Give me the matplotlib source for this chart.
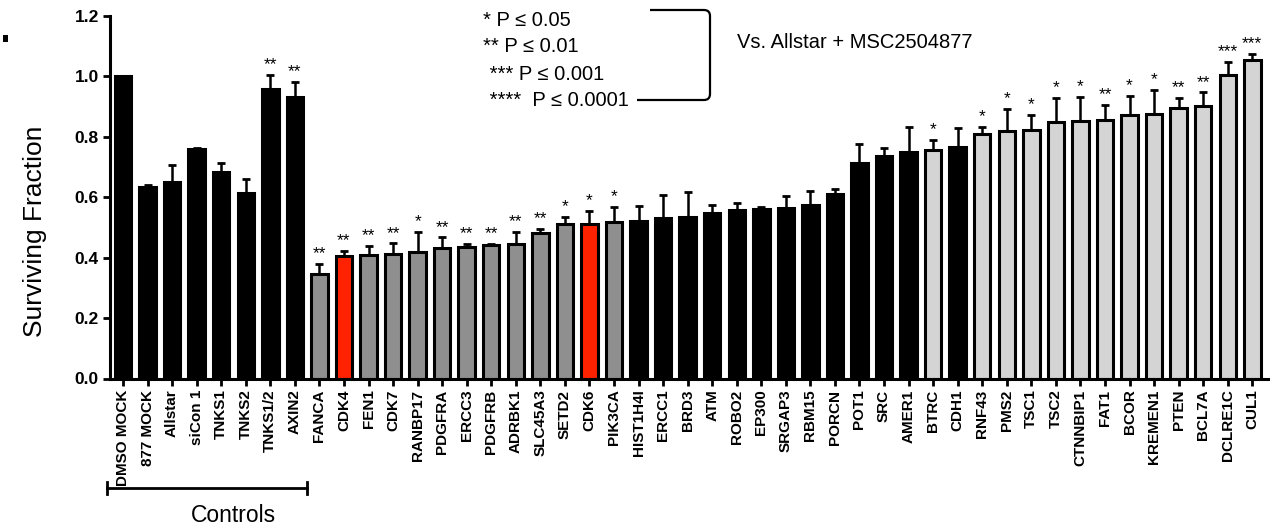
import matplotlib
matplotlib.use('Agg')
import matplotlib.pyplot as plt
import matplotlib.transforms as mtransforms
from matplotlib.patches import Rectangle, PathPatch
from matplotlib.path import Path
import numpy as np


genes = ['DMSO MOCK', '877 MOCK', 'Allstar', 'siCon 1', 'TNKS1', 'TNKS2', 'TNKS1/2', 'AXIN2',
         'FANCA', 'CDK4', 'FEN1', 'CDK7', 'RANBP17', 'PDGFRA', 'ERCC3', 'PDGFRB', 'ADRBK1',
         'SLC45A3', 'SETD2', 'CDK6', 'PIK3CA', 'HIST1H4I', 'ERCC1', 'BRD3', 'ATM', 'ROBO2',
         'EP300', 'SRGAP3', 'RBM15', 'PORCN', 'POT1', 'SRC', 'AMER1', 'BTRC', 'CDH1', 'RNF43',
         'PMS2', 'TSC1', 'TSC2', 'CTNNBIP1', 'FAT1', 'BCOR', 'KREMEN1', 'PTEN', 'BCL7A',
         'DCLRE1C', 'CUL1']

surviving = [1.000, 0.633, 0.651, 0.759, 0.683, 0.614, 0.960, 0.931,
             0.347, 0.407, 0.408, 0.411, 0.419, 0.431, 0.434, 0.441, 0.445,
             0.481, 0.511, 0.511, 0.518, 0.523, 0.531, 0.534, 0.547, 0.557,
             0.560, 0.563, 0.576, 0.610, 0.715, 0.736, 0.750, 0.757, 0.766, 0.810,
             0.820, 0.823, 0.848, 0.851, 0.857, 0.872, 0.877, 0.895, 0.903,
             1.006, 1.053]

sem = [0.000, 0.009, 0.056, 0.004, 0.029, 0.046, 0.044, 0.052,
       0.033, 0.016, 0.030, 0.036, 0.067, 0.036, 0.012, 0.003, 0.040,
       0.014, 0.024, 0.044, 0.049, 0.049, 0.077, 0.085, 0.029, 0.023,
       0.007, 0.040, 0.044, 0.017, 0.060, 0.026, 0.084, 0.034, 0.064, 0.024,
       0.073, 0.049, 0.080, 0.081, 0.050, 0.064, 0.079, 0.034, 0.044,
       0.043, 0.020]

# ns = not significant, sens = sensitising, hit = highlighted, res = resistance
groups = ['ns'] * 8 + ['sens', 'hit'] + ['sens'] * 9 + ['hit', 'sens'] + ['ns'] * 12 + \
         ['res', 'ns'] + ['res'] * 12

stars = ['', '', '', '', '', '', '**', '**',
         '**', '**', '**', '**', '*', '**', '**', '**', '**',
         '**', '*', '*', '*', '', '', '', '', '',
         '', '', '', '', '', '', '', '*', '', '*',
         '*', '*', '*', '*', '**', '*', '*', '**', '**',
         '***', '***']

legend_lines = ['* P \u2264 0.05', '** P \u2264 0.01', ' *** P \u2264 0.001', ' ****  P \u2264 0.0001']

group_colors = {'ns': 'black', 'sens': '#8f8f8f', 'hit': '#ff2200', 'res': '#d4d4d4'}

plt.rcParams['font.family'] = ['Liberation Sans', 'DejaVu Sans']

W, H = 1283, 531
fig = plt.figure(figsize=(W / 100, H / 100), dpi=100)


def fpx(x, y):
    return x / W, 1 - y / H


ax = fig.add_axes([110 / W, 1 - 378.5 / H, (1268 - 110) / W, (378.5 - 16) / H])

x = np.arange(len(genes))
ax.bar(x, surviving, width=0.67, color=[group_colors[g] for g in groups],
       edgecolor='black', linewidth=2.2, zorder=2)
ax.errorbar(x, surviving, yerr=[np.zeros(len(x)), sem], fmt='none', ecolor='black',
            elinewidth=1.8, capsize=3, capthick=2, zorder=3)

for i, s in enumerate(stars):
    if s:
        ax.annotate(s, (i, surviving[i] + sem[i]), xytext=(0, 2), textcoords='offset points',
                    ha='center', va='bottom', fontsize=12.5)

ax.set_xlim(-0.53, 46.64)
ax.set_ylim(0, 1.2)
ax.set_yticks(np.arange(0, 1.21, 0.2))
ax.yaxis.set_major_formatter('{x:.1f}')
ax.set_xticks(x)
ax.set_xticklabels(genes)
ax.tick_params(direction='out', length=5, width=2, pad=3)
ax.tick_params(axis='x', labelsize=11, labelrotation=90)
ax.tick_params(axis='y', labelsize=12.5)
for lab in ax.get_xticklabels() + ax.get_yticklabels():
    lab.set_fontweight('bold')
for side in ['top', 'right']:
    ax.spines[side].set_visible(False)
for side in ['left', 'bottom']:
    ax.spines[side].set_linewidth(2.2)

ax.set_ylabel('Surviving Fraction', fontsize=19)
ax.yaxis.set_label_coords(-0.054, 0.405)

# significance legend and bracket
for k, line in enumerate(legend_lines):
    lx = 483 if k < 2 else 484
    fig.text(*fpx(lx, [21, 47, 75, 100][k]), line, fontsize=14.5, va='center', ha='left')

r = 6
verts = [fpx(650, 10), fpx(710 - r, 10), fpx(710, 10), fpx(710, 10 + r),
         fpx(710, 100 - r), fpx(710, 100), fpx(710 - r, 100), fpx(637, 100)]
codes = [Path.MOVETO, Path.LINETO, Path.CURVE3, Path.CURVE3,
         Path.LINETO, Path.CURVE3, Path.CURVE3, Path.LINETO]
fig.add_artist(PathPatch(Path(verts, codes), transform=fig.transFigure,
                         fill=False, edgecolor='black', linewidth=1.6))
fig.text(*fpx(737, 42), 'Vs. Allstar + MSC2504877', fontsize=14.5, va='center', ha='left')

# controls bracket
trans = mtransforms.blended_transform_factory(ax.transData, fig.transFigure)
yb = 1 - 488 / H
cap = 6 / H
ax.plot([-0.65, 7.5], [yb, yb], color='black', lw=2, transform=trans, clip_on=False)
ax.plot([-0.65, -0.65], [yb - cap, yb + cap], color='black', lw=2, transform=trans, clip_on=False)
ax.plot([7.5, 7.5], [yb - cap, yb + cap], color='black', lw=2, transform=trans, clip_on=False)
ax.text(4.5, 1 - 515 / H, 'Controls', transform=trans, fontsize=16.5, ha='center', va='center')

# leftover panel mark
fig.add_artist(Rectangle(fpx(3, 42), 5 / W, 7 / H, transform=fig.transFigure,
                         facecolor='black', edgecolor='none'))

fig.savefig('out.png', dpi=100)
